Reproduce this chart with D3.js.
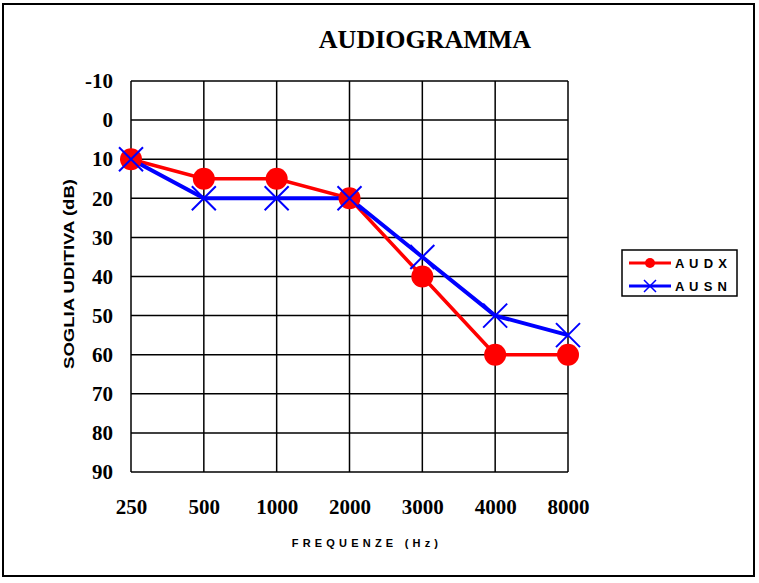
<!DOCTYPE html>
<html>
<head>
<meta charset="utf-8">
<script src="https://cdn.jsdelivr.net/npm/d3@7"></script>
<style>
  body { margin: 0; background: #fff; }
</style>
</head>
<body>
<svg id="chart" width="759" height="583"></svg>
<script>
const frequencies = ['250', '500', '1000', '2000', '3000', '4000', '8000'];
const auDx = [10, 15, 15, 20, 40, 60, 60];
const auSn = [10, 20, 20, 20, 35, 50, 55];
const yTicks = [-10, 0, 10, 20, 30, 40, 50, 60, 70, 80, 90];

const svg = d3.select('#chart');

// outer frame
svg.append('rect')
  .attr('x', 3).attr('y', 4).attr('width', 751).attr('height', 572)
  .attr('fill', 'none').attr('stroke', '#000').attr('stroke-width', 2);

const margin = { top: 81, left: 131 };
const width = 437;
const height = 391;

const x = d3.scalePoint().domain(frequencies).range([0, width]);
const y = d3.scaleLinear().domain([-10, 90]).range([0, height]);

const g = svg.append('g').attr('transform', `translate(${margin.left},${margin.top})`);

// grid
g.selectAll('.hgrid').data(yTicks).enter().append('line')
  .attr('x1', 0).attr('x2', width)
  .attr('y1', d => y(d)).attr('y2', d => y(d))
  .attr('stroke', '#000').attr('stroke-width', 1.5);

g.selectAll('.vgrid').data(frequencies).enter().append('line')
  .attr('x1', d => x(d)).attr('x2', d => x(d))
  .attr('y1', 0).attr('y2', height)
  .attr('stroke', '#000').attr('stroke-width', 1.5);

// axes labels
const yAxis = g.append('g')
  .call(d3.axisLeft(y).tickValues(yTicks).tickFormat(d => String(d)).tickSize(0).tickPadding(18));
yAxis.select('.domain').remove();
yAxis.selectAll('text')
  .attr('font-family', 'Liberation Serif, Times New Roman, serif')
  .attr('font-weight', 'bold').attr('font-size', 21).attr('fill', '#000');

const xAxis = g.append('g')
  .attr('transform', `translate(0,${height})`)
  .call(d3.axisBottom(x).tickSize(0).tickPadding(27));
xAxis.select('.domain').remove();
xAxis.selectAll('text')
  .attr('font-family', 'Liberation Serif, Times New Roman, serif')
  .attr('font-weight', 'bold').attr('font-size', 21).attr('fill', '#000');

// series
const line = d3.line().x((d, i) => x(frequencies[i])).y(d => y(d));

g.append('path').datum(auDx)
  .attr('d', line).attr('fill', 'none')
  .attr('stroke', '#ff0000').attr('stroke-width', 3.5);

g.append('path').datum(auSn)
  .attr('d', line).attr('fill', 'none')
  .attr('stroke', '#0000ff').attr('stroke-width', 4);

g.selectAll('.dx').data(auDx).enter().append('circle')
  .attr('cx', (d, i) => x(frequencies[i])).attr('cy', d => y(d))
  .attr('r', 11).attr('fill', '#ff0000');

const cross = 12;
g.selectAll('.sn').data(auSn).enter().append('path')
  .attr('transform', (d, i) => `translate(${x(frequencies[i])},${y(d)})`)
  .attr('d', `M${-cross},${-cross}L${cross},${cross}M${-cross},${cross}L${cross},${-cross}`)
  .attr('stroke', '#0000ff').attr('stroke-width', 2).attr('fill', 'none');

// title
svg.append('text')
  .attr('x', 425).attr('y', 48).attr('text-anchor', 'middle')
  .attr('font-family', 'Liberation Serif, Times New Roman, serif')
  .attr('font-weight', 'bold').attr('font-size', 26)
  .text('AUDIOGRAMMA');

// axis titles
svg.append('text')
  .attr('x', 367).attr('y', 547).attr('text-anchor', 'middle')
  .attr('font-family', 'Liberation Sans, Arial, sans-serif')
  .attr('font-weight', 'bold').attr('font-size', 11)
  .attr('letter-spacing', 4.2)
  .text('FREQUENZE (Hz)');

svg.append('text')
  .attr('transform', 'translate(74,274) rotate(-90)')
  .attr('text-anchor', 'middle')
  .attr('font-family', 'Liberation Sans Narrow, Liberation Sans, Arial, sans-serif')
  .attr('font-weight', 'bold').attr('font-size', 15)
  .attr('textLength', 190).attr('lengthAdjust', 'spacingAndGlyphs')
  .text('SOGLIA UDITIVA (dB)');

// legend
const legend = svg.append('g').attr('transform', 'translate(622,250)');
legend.append('rect')
  .attr('width', 115).attr('height', 46)
  .attr('fill', '#fff').attr('stroke', '#000').attr('stroke-width', 1.5);

const legendItems = [
  { name: 'A U D X', color: '#ff0000', mark: 'circle' },
  { name: 'A U S N', color: '#0000ff', mark: 'cross' }
];
legendItems.forEach((item, i) => {
  const ly = 13 + i * 23;
  legend.append('line')
    .attr('x1', 7).attr('x2', 49).attr('y1', ly).attr('y2', ly)
    .attr('stroke', item.color).attr('stroke-width', 3);
  if (item.mark === 'circle') {
    legend.append('circle').attr('cx', 28).attr('cy', ly).attr('r', 5).attr('fill', item.color);
  } else {
    legend.append('path')
      .attr('d', `M22,${ly - 6}L34,${ly + 6}M22,${ly + 6}L34,${ly - 6}`)
      .attr('stroke', item.color).attr('stroke-width', 1.5);
  }
  legend.append('text')
    .attr('x', 53).attr('y', ly + 5)
    .attr('font-family', 'Liberation Sans, Arial, sans-serif')
    .attr('font-weight', 'bold').attr('font-size', 13)
    .attr('textLength', 52).attr('lengthAdjust', 'spacing')
    .text(item.name);
});
</script>
</body>
</html>
